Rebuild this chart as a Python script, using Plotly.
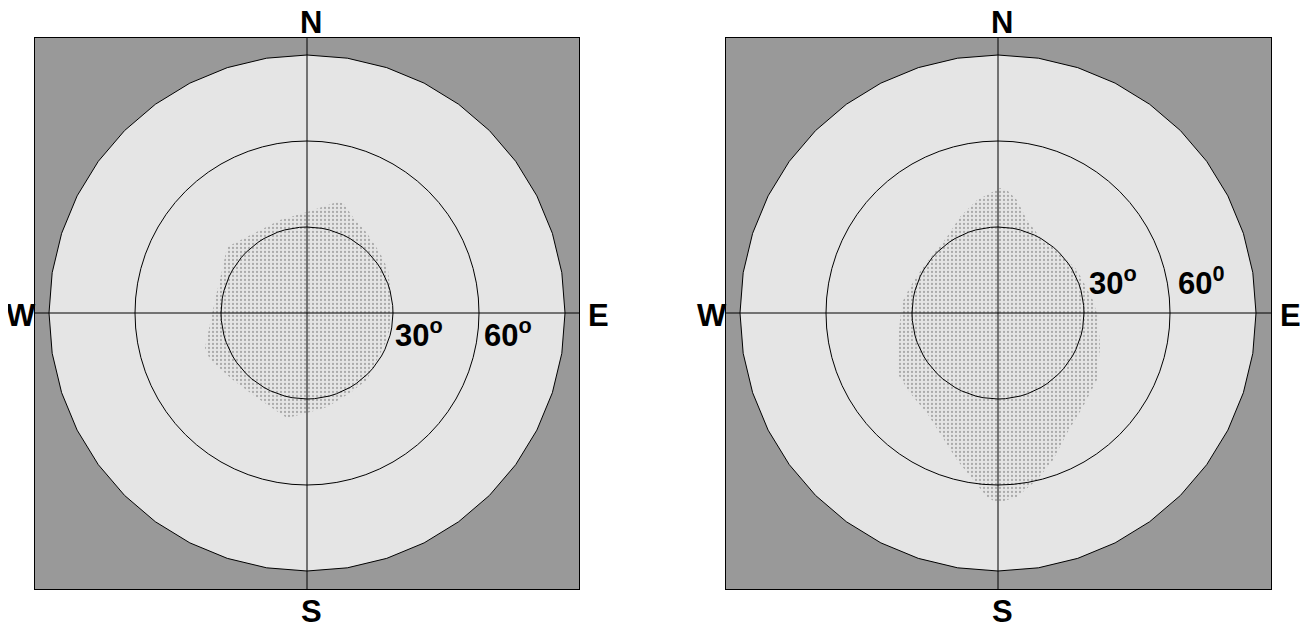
import numpy as np
import plotly.graph_objects as go

# ---- data (degrees: x = east, y = north) ----
ring_levels = [30, 60]
horizon = 90
compass_labels = ["N", "S", "E", "W"]

left_region_x = [10.5, 0.0, -9.4, -27.9, -29.6, -32.1, -35.6, -33.8, -25.8, -16.4, -7.0, 0.0, 7.0, 15.0, 20.9, 27.9, 30.0, 28.3, 25.5, 20.9, 16.0, 12.6]
left_region_y = [38.7, 35.2, 32.4, 23.0, 15.0, 4.5, -12.2, -16.4, -23.4, -30.3, -36.6, -34.9, -32.8, -27.9, -23.4, -9.4, 0.0, 15.0, 20.9, 27.9, 33.5, 38.4]

right_region_x = [0.7, -7.3, -13.3, -17.8, -26.2, -30.7, -33.5, -34.9, -35.2, -30.7, -24.8, -20.2, -14.3, -8.7, -3.8, -0.3, 6.6, 13.6, 19.2, 24.1, 29.6, 34.5, 35.6, 34.9, 33.1, 27.6, 21.6, 14.6, 10.1, 6.6, 3.1]
right_region_y = [43.6, 39.4, 33.5, 26.5, 16.0, 9.1, 3.5, -9.4, -20.9, -27.9, -34.9, -41.9, -51.3, -58.2, -64.2, -66.3, -64.2, -58.2, -51.3, -41.9, -32.8, -23.4, -11.9, -1.4, 4.5, 15.0, 20.9, 26.5, 32.4, 39.4, 42.9]

left_ring_text = ["30<sup>o</sup>", "60<sup>o</sup>"]
right_ring_text = ["30<sup>o</sup>", "60<sup>0</sup>"]

OFF = 8  # page body margin
W, H = 1300, 620
PX_PER_DEG = 86 / 30.0
FONT = "Arial, Liberation Sans, sans-serif"
FS = 31

panels = [
    dict(cx=307, box=(35, 579), rx=left_region_x, ry=left_region_y,
         texts=left_ring_text, text_left=[393, 482], text_y=333),
    dict(cx=998, box=(726, 1271), rx=right_region_x, ry=right_region_y,
         texts=right_ring_text, text_left=[1087, 1176], text_y=281),
]
cy = 313
box_top, box_bottom = 38, 589

fig = go.Figure()


def circle(r, n):
    t = np.linspace(0, 2 * np.pi, n + 1)
    return r * np.sin(t), r * np.cos(t)


annotations = []
for i, p in enumerate(panels):
    xa = "x" if i == 0 else "x2"
    ya = "y" if i == 0 else "y2"
    x0 = (p["box"][0] - p["cx"]) / PX_PER_DEG
    x1 = (p["box"][1] - p["cx"]) / PX_PER_DEG
    y0 = (cy - box_bottom) / PX_PER_DEG
    y1 = (cy - box_top) / PX_PER_DEG

    hx, hy = circle(horizon, 40)
    fig.add_trace(go.Scatter(x=hx, y=hy, mode="lines", fill="toself",
                             fillcolor="#e5e5e5", line=dict(color="black", width=1),
                             xaxis=xa, yaxis=ya, hoverinfo="skip", showlegend=False))
    rx = list(p["rx"]) + [p["rx"][0]]
    ry = list(p["ry"]) + [p["ry"][0]]
    fig.add_trace(go.Scatter(x=rx, y=ry, mode="lines", fill="toself",
                             fillcolor="rgba(0,0,0,0)",
                             fillpattern=dict(shape=".", fgcolor="#6e6e6e",
                                              bgcolor="rgba(0,0,0,0)", size=4, solidity=0.25),
                             line=dict(width=0, color="rgba(0,0,0,0)"),
                             xaxis=xa, yaxis=ya, hoverinfo="skip", showlegend=False))
    for r in ring_levels:
        cxs, cys = circle(r, 72)
        fig.add_trace(go.Scatter(x=cxs, y=cys, mode="lines",
                                 line=dict(color="black", width=1),
                                 xaxis=xa, yaxis=ya, hoverinfo="skip", showlegend=False))
    fig.add_trace(go.Scatter(x=[x0, x1, None, 0, 0], y=[0, 0, None, y0, y1], mode="lines",
                             line=dict(color="black", width=1),
                             xaxis=xa, yaxis=ya, hoverinfo="skip", showlegend=False))

    dom_x = [(p["box"][0] - OFF) / W, (p["box"][1] - OFF) / W]
    dom_y = [1 - (box_bottom - OFF) / H, 1 - (box_top - OFF) / H]
    axkw = dict(showgrid=False, zeroline=False, showticklabels=False, ticks="",
                showline=True, mirror=True, linecolor="black", linewidth=1)
    if i == 0:
        fig.update_layout(xaxis=dict(domain=dom_x, range=[x0, x1], **axkw),
                          yaxis=dict(domain=dom_y, range=[y0, y1], **axkw))
    else:
        fig.update_layout(xaxis2=dict(domain=dom_x, range=[x0, x1], anchor="y2", **axkw),
                          yaxis2=dict(domain=dom_y, range=[y0, y1], anchor="x2", **axkw))

    for txt, lx in zip(p["texts"], p["text_left"]):
        annotations.append(dict(x=(lx - p["cx"]) / PX_PER_DEG, y=(cy - p["text_y"]) / PX_PER_DEG,
                                xref=xa, yref=ya, text="<b>" + txt + "</b>", showarrow=False,
                                xanchor="left", yanchor="middle",
                                font=dict(family=FONT, size=FS, color="black")))

    pos = {"N": (p["cx"] + 4, 22), "S": (p["cx"] + 4, 611),
           "W": (p["box"][0] - 14, 315), "E": (p["box"][1] + 19, 315)}
    for lab in compass_labels:
        px, py = pos[lab]
        annotations.append(dict(x=(px - OFF) / W, y=1 - (py - OFF) / H, xref="paper", yref="paper",
                                text="<b>" + lab + "</b>", showarrow=False,
                                xanchor="center", yanchor="middle",
                                font=dict(family=FONT, size=FS, color="black")))

fig.update_layout(width=W, height=H, margin=dict(l=0, r=0, t=0, b=0),
                  paper_bgcolor="white", plot_bgcolor="#999999",
                  annotations=annotations, showlegend=False)

fig.write_html("out.html")
